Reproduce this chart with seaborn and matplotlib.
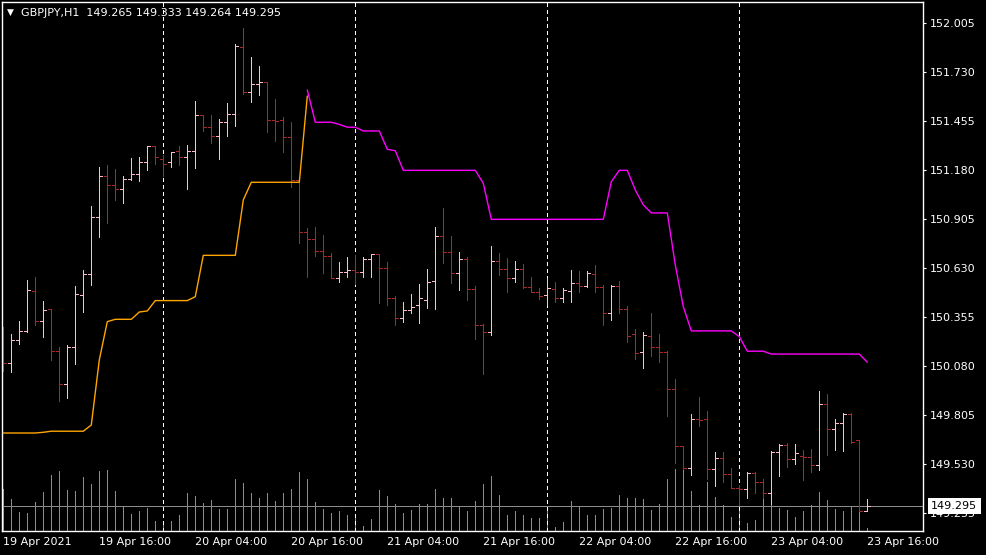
import numpy as np
import pandas as pd
import matplotlib
matplotlib.use("Agg")
import matplotlib.pyplot as plt
from matplotlib.transforms import blended_transform_factory
import seaborn as sns

# === Data (GBPJPY H1, 19 Apr 04:00 .. 23 Apr 16:00) ===
symbol = "GBPJPY,H1"
opens = [150.254, 150.097, 150.226, 150.277, 150.501, 150.333, 150.400, 150.164, 149.979, 150.187,
         150.479, 150.596, 150.916, 151.147, 151.096, 151.073, 151.129, 151.158, 151.225, 151.315,
         151.242, 151.225, 151.287, 151.253, 151.287, 151.489, 151.421, 151.371, 151.449, 151.494,
         151.870, 151.618, 151.663, 151.674, 151.461, 151.461, 151.365, 151.124, 150.832, 150.793,
         150.725, 150.697, 150.574, 150.608, 150.619, 150.608, 150.681, 150.709, 150.630, 150.462,
         150.350, 150.394, 150.422, 150.451, 150.557, 150.810, 150.720, 150.602, 150.681, 150.512,
         150.310, 150.271, 150.669, 150.625, 150.574, 150.625, 150.523, 150.495, 150.479, 150.512,
         150.462, 150.501, 150.546, 150.529, 150.596, 150.523, 150.378, 150.529, 150.400, 150.260,
         150.159, 150.249, 150.187, 150.159, 149.951, 149.631, 149.508, 149.783, 149.783, 149.502,
         149.564, 149.474, 149.395, 149.390, 149.480, 149.429, 149.367, 149.598, 149.637, 149.558,
         149.575, 149.570, 149.525, 149.867, 149.727, 149.760, 149.811, 149.665, 149.265]
highs = [150.299, 150.260, 150.333, 150.563, 150.580, 150.445, 150.400, 150.187, 150.198, 150.529,
         150.619, 150.978, 151.197, 151.208, 151.186, 151.147, 151.247, 151.253, 151.315, 151.315,
         151.264, 151.281, 151.315, 151.320, 151.567, 151.489, 151.489, 151.466, 151.556, 151.887,
         151.977, 151.814, 151.764, 151.674, 151.578, 151.477, 151.449, 151.124, 150.855, 150.860,
         150.815, 150.714, 150.664, 150.692, 150.703, 150.692, 150.709, 150.709, 150.664, 150.473,
         150.439, 150.484, 150.540, 150.625, 150.860, 150.967, 150.810, 150.720, 150.692, 150.529,
         150.316, 150.754, 150.714, 150.686, 150.669, 150.653, 150.580, 150.518, 150.574, 150.552,
         150.518, 150.619, 150.613, 150.613, 150.647, 150.535, 150.535, 150.557, 150.417, 150.288,
         150.271, 150.378, 150.260, 150.164, 150.007, 149.631, 149.811, 149.906, 149.828, 149.598,
         149.598, 149.508, 149.412, 149.485, 149.485, 149.446, 149.603, 149.643, 149.648, 149.643,
         149.609, 149.614, 149.940, 149.923, 149.783, 149.817, 149.817, 149.665, 149.333]
lows = [150.052, 150.047, 150.204, 150.271, 150.310, 150.243, 150.114, 149.884, 149.901, 150.091,
        150.383, 150.535, 150.804, 150.883, 151.012, 150.995, 151.124, 151.118, 151.180, 151.214,
        151.147, 151.197, 151.208, 151.073, 151.191, 151.399, 151.332, 151.242, 151.371, 151.427,
        151.607, 151.562, 151.601, 151.393, 151.343, 151.281, 151.085, 150.770, 150.580, 150.697,
        150.602, 150.574, 150.552, 150.580, 150.540, 150.580, 150.580, 150.434, 150.422, 150.310,
        150.327, 150.378, 150.322, 150.406, 150.400, 150.658, 150.546, 150.507, 150.451, 150.232,
        150.035, 150.254, 150.591, 150.495, 150.552, 150.518, 150.495, 150.456, 150.422, 150.439,
        150.439, 150.439, 150.495, 150.523, 150.495, 150.310, 150.338, 150.378, 150.215, 150.119,
        150.069, 150.136, 150.103, 149.800, 149.536, 149.502, 149.469, 149.743, 149.446, 149.407,
        149.429, 149.395, 149.300, 149.339, 149.367, 149.339, 149.306, 149.463, 149.513, 149.530,
        149.440, 149.485, 149.497, 149.581, 149.609, 149.603, 149.648, 149.266, 149.264]
closes = [150.097, 150.226, 150.277, 150.507, 150.333, 150.394, 150.164, 149.979, 150.187, 150.484,
          150.596, 150.916, 151.147, 151.096, 151.073, 151.129, 151.158, 151.225, 151.315, 151.253,
          151.214, 151.281, 151.253, 151.287, 151.489, 151.421, 151.371, 151.449, 151.494, 151.876,
          151.618, 151.663, 151.674, 151.461, 151.455, 151.365, 151.124, 150.832, 150.793, 150.725,
          150.697, 150.574, 150.608, 150.619, 150.608, 150.681, 150.709, 150.630, 150.462, 150.350,
          150.394, 150.411, 150.462, 150.552, 150.810, 150.720, 150.602, 150.681, 150.512, 150.310,
          150.271, 150.669, 150.625, 150.574, 150.625, 150.523, 150.495, 150.473, 150.518, 150.462,
          150.507, 150.546, 150.529, 150.602, 150.523, 150.378, 150.529, 150.400, 150.249, 150.153,
          150.254, 150.187, 150.159, 149.951, 149.631, 149.508, 149.783, 149.777, 149.502, 149.564,
          149.474, 149.395, 149.390, 149.480, 149.429, 149.367, 149.598, 149.637, 149.558, 149.592,
          149.570, 149.525, 149.867, 149.727, 149.760, 149.811, 149.654, 149.266, 149.295]
volumes = [2100, 1600, 950, 900, 1450, 1950, 2800, 3000, 2050, 2000,
           2700, 2350, 3000, 3050, 2000, 1200, 850, 1000, 1150, 500,
           400, 500, 800, 1900, 1750, 1400, 1550, 1100, 1100, 2600,
           2400, 1900, 1650, 1900, 1500, 1900, 2100, 2950, 2600, 1450,
           1100, 900, 1000, 800, 800, 250, 600, 2050, 1750, 1350,
           900, 1050, 1350, 1350, 2100, 1650, 1650, 1250, 1000, 1500,
           2350, 2750, 1800, 800, 1000, 800, 650, 650, 1250, 200,
           450, 1500, 1200, 800, 800, 1100, 1150, 1800, 1650, 1650,
           1600, 1050, 1350, 2600, 3100, 3100, 2000, 1300, 2450, 1700,
           1300, 700, 1300, 400, 550, 1600, 1400, 1150, 1050, 700,
           1000, 1300, 1950, 1550, 1100, 1000, 1200, 2300, 150]

# indicator line: orange while rising (bars 0-38), magenta while falling (bars 38-108)
trend_up = [149.704, 149.704, 149.704, 149.704, 149.704, 149.708, 149.714, 149.714, 149.714, 149.714,
            149.714, 149.749, 150.114, 150.329, 150.342, 150.342, 150.342, 150.383, 150.389, 150.447,
            150.447, 150.447, 150.447, 150.447, 150.469, 150.701, 150.701, 150.701, 150.701, 150.701,
            151.012, 151.111, 151.111, 151.111, 151.111, 151.111, 151.111, 151.111, 151.595]
trend_down = [151.629, 151.448, 151.448, 151.448, 151.436, 151.420, 151.420, 151.399, 151.399, 151.399,
              151.296, 151.288, 151.178, 151.178, 151.178, 151.178, 151.178, 151.178, 151.178, 151.178,
              151.178, 151.178, 151.105, 150.903, 150.903, 150.903, 150.903, 150.903, 150.903, 150.903,
              150.903, 150.903, 150.903, 150.903, 150.903, 150.903, 150.903, 150.903, 151.114, 151.178,
              151.178, 151.068, 150.984, 150.939, 150.939, 150.939, 150.647, 150.413, 150.277, 150.277,
              150.277, 150.277, 150.277, 150.277, 150.245, 150.163, 150.163, 150.163, 150.147, 150.147,
              150.147, 150.147, 150.147, 150.147, 150.147, 150.147, 150.147, 150.147, 150.147, 150.147,
              150.101]

x_tick_bars = [0, 12, 24, 36, 48, 60, 72, 84, 96, 108]
x_tick_labels = ["19 Apr 2021", "19 Apr 16:00", "20 Apr 04:00", "20 Apr 16:00", "21 Apr 04:00",
                 "21 Apr 16:00", "22 Apr 04:00", "22 Apr 16:00", "23 Apr 04:00", "23 Apr 16:00"]
day_breaks = [20, 44, 68, 92]
y_ticks = [152.005, 151.730, 151.455, 151.180, 150.905, 150.630, 150.355, 150.080, 149.805, 149.530, 149.255]
bid = 149.295

# === Style ===
sns.set_style("dark", {"axes.facecolor": "black", "figure.facecolor": "black",
                       "axes.edgecolor": "white", "text.color": "white",
                       "xtick.color": "white", "ytick.color": "white"})
plt.rcParams["font.family"] = ["DejaVu Sans"]

W, H = 987, 555
PX = 0.72  # one pixel in points
fig = plt.figure(figsize=(W / 100, H / 100), dpi=100, facecolor="black")
pos = [2.3 / W, (H - 531) / H, 921 / W, 528.7 / H]

# volumes underneath
ax_vol = fig.add_axes(pos)
ax_vol.set_facecolor("black")
bars = np.arange(len(opens))
ax_vol.vlines(bars, 0, volumes, colors="#3CC83C", lw=PX, antialiased=False)
ax_vol.set_xlim(-0.125, 115)
ax_vol.set_ylim(0, 26435)
ax_vol.set_xticks([])
ax_vol.set_yticks([])
for s in ax_vol.spines.values():
    s.set_visible(False)

# price chart
ax = fig.add_axes(pos)
ax.patch.set_alpha(0)

ax.axhline(bid, color="#8c8c8c", lw=PX, zorder=1, antialiased=False)
for d in day_breaks:
    ax.axvline(d, color="white", lw=PX, linestyle=(0, (4, 3)), zorder=1, antialiased=False)

o = np.array(opens)
c = np.array(closes)
colors = np.where(c >= o, "#FFC0CB", "#A52A2A")
ax.vlines(bars, lows, highs, colors=colors, lw=PX, zorder=2, antialiased=False)
ax.hlines(opens, bars - 0.36, bars, colors=colors, lw=PX, zorder=2, antialiased=False)
ax.hlines(closes, bars, bars + 0.36, colors=colors, lw=PX, zorder=2, antialiased=False)

df_up = pd.DataFrame({"bar": np.arange(0, 39), "value": trend_up})
df_dn = pd.DataFrame({"bar": np.arange(38, 109), "value": trend_down})
sns.lineplot(data=df_up, x="bar", y="value", color="#FFA500", lw=1.0, ax=ax, zorder=3)
sns.lineplot(data=df_dn, x="bar", y="value", color="#FF00FF", lw=1.0, ax=ax, zorder=3)

ax.set_xlim(-0.125, 115)
ax.set_ylim(149.154, 152.121)
ax.set_xlabel("")
ax.set_ylabel("")

ax.yaxis.tick_right()
ax.set_yticks(y_ticks)
ax.set_yticklabels([f"{v:.3f}" for v in y_ticks])
ax.set_xticks(x_tick_bars)
ax.set_xticklabels(x_tick_labels)
for lab in ax.get_xticklabels():
    lab.set_horizontalalignment("left")
ax.tick_params(axis="both", colors="white", labelcolor="white", labelsize=8,
               length=2.5, width=0.8, pad=2.5)
ax.tick_params(axis="x", pad=1.5)
ax.grid(False)
for s in ax.spines.values():
    s.set_visible(True)
    s.set_color("white")
    s.set_linewidth(1.0)

# current price label
tr = blended_transform_factory(ax.transAxes, ax.transData)
ax.text(1.0085, bid, f"{bid:.3f}", transform=tr, color="black", fontsize=8,
        va="center", ha="left", zorder=10, clip_on=False,
        bbox=dict(boxstyle="square,pad=0.3", facecolor="white", edgecolor="none"))

# header
fig.text(7 / W, 1 - 12.5 / H, "\u25bc", color="white", fontsize=6.5, va="center", ha="left")
fig.text(21 / W, 1 - 12.5 / H, f"{symbol}  {opens[-1]:.3f} {highs[-1]:.3f} {lows[-1]:.3f} {closes[-1]:.3f}",
         color="white", fontsize=8, va="center", ha="left")

fig.savefig("out.png", dpi=100, facecolor="black")
